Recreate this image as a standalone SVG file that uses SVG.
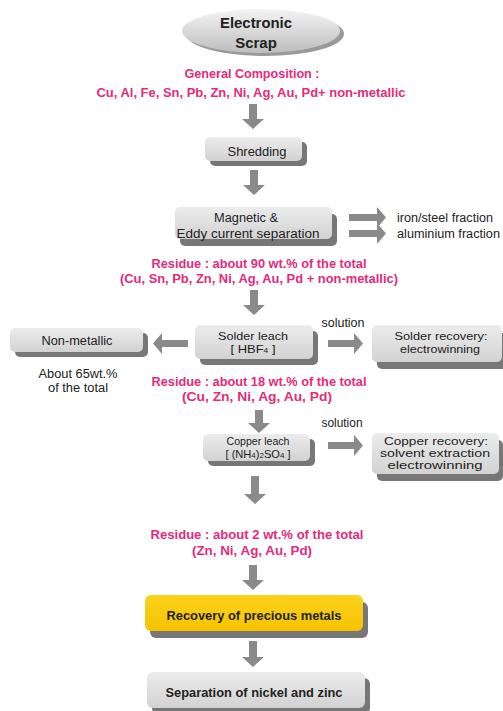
<svg xmlns="http://www.w3.org/2000/svg" width="503" height="711" viewBox="0 0 503 711">
<defs>
<linearGradient id="gbox" x1="0" y1="0" x2="0" y2="1">
<stop offset="0" stop-color="#ececec"/>
<stop offset="1" stop-color="#d2d2d2"/>
</linearGradient>
<linearGradient id="gell" x1="0" y1="0" x2="0" y2="1">
<stop offset="0" stop-color="#f4f4f4"/>
<stop offset="1" stop-color="#bdbdbd"/>
</linearGradient>
<linearGradient id="gyel" x1="0" y1="0" x2="0" y2="1">
<stop offset="0" stop-color="#fcd21c"/>
<stop offset="1" stop-color="#f5c200"/>
</linearGradient>
</defs>
<style>
text{font-family:"Liberation Sans",Arial,sans-serif;text-anchor:middle}
.pk{fill:#e52a7b;font-weight:bold;font-size:13px}
.bk{fill:#222;font-size:12.5px}
.md{fill:#222;font-size:11.5px}
.sm{fill:#222;font-size:10.5px}
.bb{fill:#222;font-weight:bold;font-size:13px}
.sh{fill:#777}
.bx{fill:url(#gbox)}
.ar{fill:#8a8a8a}
.sub{font-size:7.5px}
</style>
<rect width="503" height="711" fill="#fff"/>

<g id="scrap">
<ellipse cx="265" cy="34" rx="79" ry="22" fill="#9a9a9a"/>
<ellipse cx="261" cy="31" rx="79" ry="22" fill="url(#gell)"/>
<text x="256" y="28" style="font-weight:bold;font-size:15px;fill:#222" textLength="72" lengthAdjust="spacingAndGlyphs">Electronic</text>
<text x="256" y="48" style="font-weight:bold;font-size:15px;fill:#222">Scrap</text>
</g>

<g id="composition">
<text class="pk" x="252" y="78" textLength="135" lengthAdjust="spacingAndGlyphs">General Composition :</text>
<text class="pk" x="251" y="97" textLength="309" lengthAdjust="spacingAndGlyphs">Cu, Al, Fe, Sn, Pb, Zn, Ni, Ag, Au, Pd+ non-metallic</text>
</g>

<g id="shredding">
<rect class="sh" x="210" y="142" width="97" height="24" rx="5"/>
<rect class="bx" x="205" y="137" width="97" height="24" rx="5"/>
<text class="bk" x="257" y="156" textLength="59" lengthAdjust="spacingAndGlyphs">Shredding</text>
</g>

<g id="magnetic">
<rect class="sh" x="180" y="214" width="157" height="32" rx="5"/>
<rect class="bx" x="175" y="207" width="157" height="32" rx="5"/>
<text class="bk" x="246" y="221.5" textLength="64" lengthAdjust="spacingAndGlyphs">Magnetic &amp;</text>
<text class="bk" x="248" y="237.5" textLength="143" lengthAdjust="spacingAndGlyphs">Eddy current separation</text>
</g>

<g id="fractions">
<text class="bk" x="397" y="221.5" style="text-anchor:start" textLength="96" lengthAdjust="spacingAndGlyphs">iron/steel fraction</text>
<text class="bk" x="397" y="237.5" style="text-anchor:start" textLength="103" lengthAdjust="spacingAndGlyphs">aluminium fraction</text>
</g>

<g id="residue90">
<text class="pk" x="259" y="267.5" textLength="215" lengthAdjust="spacingAndGlyphs">Residue : about 90 wt.% of the total</text>
<text class="pk" x="259" y="283" textLength="278" lengthAdjust="spacingAndGlyphs">(Cu, Sn, Pb, Zn, Ni, Ag, Au, Pd + non-metallic)</text>
</g>

<g id="solderleach">
<rect class="sh" x="200" y="331" width="118" height="34" rx="5"/>
<rect class="bx" x="195" y="325" width="118" height="34" rx="5"/>
<text class="md" x="253" y="340" textLength="70" lengthAdjust="spacingAndGlyphs">Solder leach</text>
<text class="md" x="253" y="353" textLength="45" lengthAdjust="spacingAndGlyphs">[ HBF<tspan class="sub">4</tspan> ]</text>
</g>

<g id="nonmetallic">
<rect class="sh" x="15" y="333" width="133" height="24" rx="5"/>
<rect class="bx" x="10" y="328" width="133" height="24" rx="5"/>
<text class="bk" x="77" y="344.5" textLength="71" lengthAdjust="spacingAndGlyphs">Non-metallic</text>
<text class="bk" x="78" y="377.5" style="font-size:12px" textLength="79" lengthAdjust="spacingAndGlyphs">About 65wt.%</text>
<text class="bk" x="78" y="391.5" style="font-size:12px" textLength="60" lengthAdjust="spacingAndGlyphs">of the total</text>
</g>

<g id="solderrecovery">
<rect class="sh" x="377" y="333" width="130" height="36" rx="5"/>
<rect class="bx" x="372" y="325" width="130" height="37" rx="5"/>
<text class="md" x="441" y="340" textLength="93" lengthAdjust="spacingAndGlyphs">Solder recovery:</text>
<text class="md" x="440" y="353" textLength="80" lengthAdjust="spacingAndGlyphs">electrowinning</text>
</g>

<g id="residue18">
<text class="pk" x="259" y="385.5" textLength="215" lengthAdjust="spacingAndGlyphs">Residue : about 18 wt.% of the total</text>
<text class="pk" x="257" y="401" textLength="150" lengthAdjust="spacingAndGlyphs">(Cu, Zn, Ni, Ag, Au, Pd)</text>
</g>

<g id="copperleach">
<rect class="sh" x="208" y="439" width="107" height="27" rx="5"/>
<rect class="bx" x="203" y="434" width="107" height="27" rx="5"/>
<text class="sm" x="258" y="445" textLength="63" lengthAdjust="spacingAndGlyphs">Copper leach</text>
<text class="sm" x="258" y="457.5" textLength="65" lengthAdjust="spacingAndGlyphs">[ (NH<tspan class="sub">4</tspan>)<tspan class="sub">2</tspan>SO<tspan class="sub">4</tspan> ]</text>
</g>

<g id="copperrecovery">
<rect class="sh" x="377" y="440" width="126" height="41" rx="5"/>
<rect class="bx" x="372" y="433" width="127" height="41" rx="5"/>
<text class="sm" x="436" y="445" textLength="104" lengthAdjust="spacingAndGlyphs">Copper recovery:</text>
<text class="sm" x="435" y="457" textLength="110" lengthAdjust="spacingAndGlyphs">solvent extraction</text>
<text class="sm" x="435" y="469" textLength="95" lengthAdjust="spacingAndGlyphs">electrowinning</text>
</g>

<g id="residue2">
<text class="pk" x="257" y="539" textLength="213" lengthAdjust="spacingAndGlyphs">Residue : about 2 wt.% of the total</text>
<text class="pk" x="252" y="554.5" textLength="120" lengthAdjust="spacingAndGlyphs">(Zn, Ni, Ag, Au, Pd)</text>
</g>

<g id="precious">
<rect class="sh" x="150" y="602" width="218" height="36" rx="6"/>
<rect x="145" y="595" width="218" height="36" rx="6" fill="url(#gyel)"/>
<text class="bb" x="254" y="619.5" textLength="175" lengthAdjust="spacingAndGlyphs">Recovery of precious metals</text>
</g>

<g id="separation">
<rect class="sh" x="152" y="678" width="218" height="36" rx="6"/>
<rect class="bx" x="147" y="672" width="218" height="36" rx="6"/>
<text class="bb" x="254" y="696.5" textLength="177" lengthAdjust="spacingAndGlyphs">Separation of nickel and zinc</text>
</g>

<g id="connectors">
<text class="bk" x="343" y="327" textLength="43" lengthAdjust="spacingAndGlyphs">solution</text>
<text class="bk" x="342" y="427" textLength="41" lengthAdjust="spacingAndGlyphs">solution</text>
<path class="ar" d="M249,104 h8 v15 h7 l-11,10 l-11,-10 h7 z"/>
<path class="ar" d="M250,170 h8 v15 h7 l-11,10 l-11,-10 h7 z"/>
<path class="ar" d="M250,290 h8 v15 h7 l-11,10 l-11,-10 h7 z"/>
<path class="ar" d="M255,410 h8 v13 h7 l-11,10 l-11,-10 h7 z"/>
<path class="ar" d="M251,476 h8 v18 h7 l-11,10 l-11,-10 h7 z"/>
<path class="ar" d="M249,565 h8 v15 h7 l-11,10 l-11,-10 h7 z"/>
<path class="ar" d="M249,641 h8 v16 h7 l-11,10 l-11,-10 h7 z"/>
<path class="ar" d="M349,214 h28 v-7 l9,10.5 l-9,10.5 v-7 h-28 z"/>
<path class="ar" d="M349,230 h28 v-7 l9,10.5 l-9,10.5 v-7 h-28 z"/>
<path class="ar" d="M328,340 h26 v-7 l9,10.5 l-9,10.5 v-7 h-26 z"/>
<path class="ar" d="M328,442 h26 v-7 l9,10.5 l-9,10.5 v-7 h-26 z"/>
<path class="ar" d="M188,340 h-26 v-7 l-9,10.5 l9,10.5 v-7 h26 z"/>
</g>
</svg>
